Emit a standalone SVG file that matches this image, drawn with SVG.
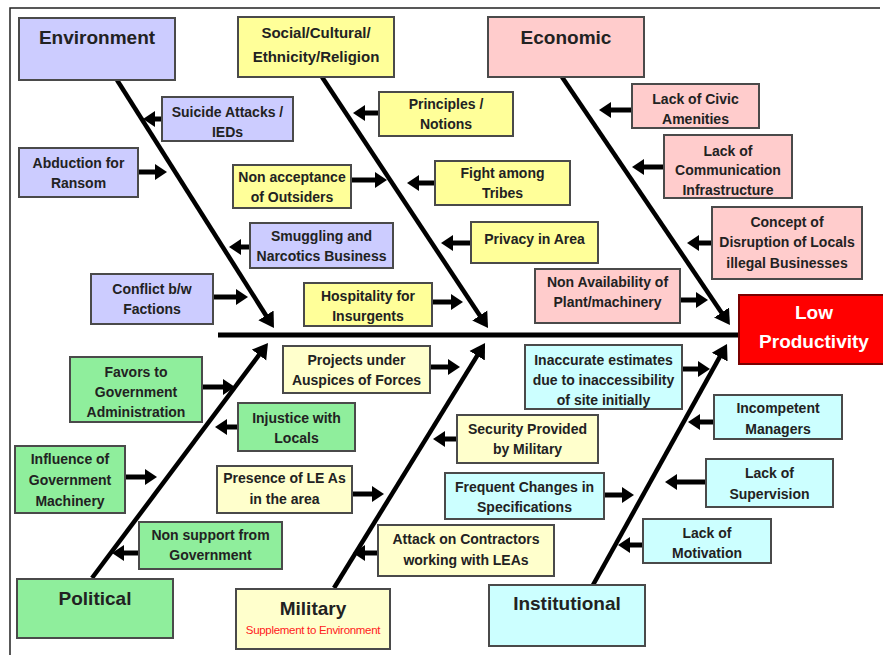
<svg xmlns="http://www.w3.org/2000/svg" width="883" height="655" viewBox="0 0 883 655">
<defs>
<style>
.b{stroke:#4a4a4a;stroke-width:2}
.env{fill:#ccccff}.soc{fill:#ffff99}.eco{fill:#ffcccc}.pol{fill:#8fee9c}.mil{fill:#ffffcc}.ins{fill:#ccffff}
text{font-family:"Liberation Sans",Arial,sans-serif;font-weight:bold;fill:#222;text-anchor:middle}
.t{font-size:14px}
.h{font-size:19px}
.h2{font-size:15px}
.lp{font-size:19px;fill:#ffffff}
.note{font-size:11.5px;font-weight:normal;fill:#ff2020;letter-spacing:-0.3px}
.a{stroke:#000;stroke-width:5;fill:none;marker-end:url(#ah)}
.m{stroke:#000;stroke-width:4.5;fill:none;marker-end:url(#mh)}
</style>
<marker id="ah" markerUnits="userSpaceOnUse" markerWidth="14" markerHeight="18" viewBox="0 -9 14 18" refX="1" refY="0" orient="auto"><path d="M0,-8 L12,0 L0,8 z" fill="#000"/></marker>
<marker id="mh" markerUnits="userSpaceOnUse" markerWidth="16" markerHeight="20" viewBox="0 -10 16 20" refX="1" refY="0" orient="auto"><path d="M0,-9 L15,0 L0,9 z" fill="#000"/></marker>
</defs>
<rect x="0" y="0" width="883" height="655" fill="#ffffff"/>
<path d="M10,655 L10,8 L880,8" fill="none" stroke="#222" stroke-width="1.5"/>

<g id="connectors">
<line x1="218" y1="335" x2="740" y2="335" stroke="#000" stroke-width="5"/>
<line class="m" x1="117" y1="80" x2="266.5" y2="316.2"/>
<line class="m" x1="322" y1="77" x2="480.3" y2="316.3"/>
<line class="m" x1="562" y1="77" x2="722.1" y2="313.4"/>
<line class="m" x1="92" y1="578" x2="259.6" y2="354.2"/>
<line class="m" x1="334" y1="588" x2="477.7" y2="354.9"/>
<line class="m" x1="593" y1="585" x2="720.2" y2="356.2"/>
<line class="a" x1="162" y1="119" x2="154" y2="119"/>
<line class="a" x1="138" y1="172" x2="156" y2="172"/>
<line class="a" x1="250" y1="247" x2="240" y2="247"/>
<line class="a" x1="213" y1="297" x2="237" y2="297"/>
<line class="a" x1="379" y1="113" x2="364" y2="113"/>
<line class="a" x1="351" y1="180" x2="376" y2="180"/>
<line class="a" x1="435" y1="183" x2="418" y2="183"/>
<line class="a" x1="471" y1="243" x2="452" y2="243"/>
<line class="a" x1="432" y1="302" x2="452" y2="302"/>
<line class="a" x1="632" y1="110" x2="610" y2="110"/>
<line class="a" x1="664" y1="167" x2="643" y2="167"/>
<line class="a" x1="712" y1="243" x2="698" y2="243"/>
<line class="a" x1="680" y1="300" x2="697" y2="300"/>
<line class="a" x1="202" y1="387" x2="224" y2="387"/>
<line class="a" x1="238" y1="427" x2="226" y2="427"/>
<line class="a" x1="125" y1="477" x2="146" y2="477"/>
<line class="a" x1="139" y1="553" x2="123" y2="553"/>
<line class="a" x1="430" y1="367" x2="449" y2="367"/>
<line class="a" x1="457" y1="439" x2="444" y2="439"/>
<line class="a" x1="352" y1="494" x2="373" y2="494"/>
<line class="a" x1="378" y1="553" x2="364" y2="553"/>
<line class="a" x1="682" y1="369" x2="699" y2="369"/>
<line class="a" x1="714" y1="422" x2="699" y2="422"/>
<line class="a" x1="604" y1="495" x2="623" y2="495"/>
<line class="a" x1="706" y1="482" x2="676" y2="482"/>
<line class="a" x1="643" y1="545" x2="629" y2="545"/>
</g>

<g id="environment"><rect class="b env" x="19" y="18" width="156" height="62"/><text class="h" x="97" y="44">Environment</text></g>
<g id="social"><rect class="b soc" x="238" y="17" width="156" height="60"/><text class="h2" x="316" y="38">Social/Cultural/</text><text class="h2" x="316" y="62">Ethnicity/Religion</text></g>
<g id="economic"><rect class="b eco" x="488" y="17" width="156" height="60"/><text class="h" x="566" y="44">Economic</text></g>
<g id="low-productivity"><rect x="739" y="295" width="145" height="69" fill="#ff0000" stroke="#7a0000" stroke-width="2"/><text class="lp" x="814" y="319">Low</text><text class="lp" x="814" y="348">Productivity</text></g>
<g id="political"><rect class="b pol" x="17" y="579" width="156" height="59"/><text class="h" x="95" y="605">Political</text></g>
<g id="military"><rect class="b mil" x="236" y="589" width="154" height="60"/><text class="h" x="313" y="615">Military</text><text class="note" x="313" y="634">Supplement to Environment</text></g>
<g id="institutional"><rect class="b ins" x="489" y="585" width="156" height="61"/><text class="h" x="567" y="610">Institutional</text></g>

<g id="suicide"><rect class="b env" x="162" y="97" width="131" height="44"/><text class="t" x="227.5" y="117">Suicide Attacks /</text><text class="t" x="227.5" y="137">IEDs</text></g>
<g id="abduction"><rect class="b env" x="19" y="148" width="119" height="49"/><text class="t" x="78.5" y="168">Abduction for</text><text class="t" x="78.5" y="188">Ransom</text></g>
<g id="smuggling"><rect class="b env" x="250" y="223" width="143" height="45"/><text class="t" x="321.5" y="241">Smuggling and</text><text class="t" x="321.5" y="261">Narcotics Business</text></g>
<g id="conflict"><rect class="b env" x="91" y="274" width="122" height="50"/><text class="t" x="152" y="294">Conflict b/w</text><text class="t" x="152" y="314">Factions</text></g>

<g id="principles"><rect class="b soc" x="379" y="92" width="134" height="44"/><text class="t" x="446" y="109">Principles /</text><text class="t" x="446" y="129">Notions</text></g>
<g id="non-acceptance"><rect class="b soc" x="233" y="165" width="118" height="43"/><text class="t" x="292" y="182">Non acceptance</text><text class="t" x="292" y="202">of Outsiders</text></g>
<g id="fight"><rect class="b soc" x="435" y="161" width="135" height="44"/><text class="t" x="502.5" y="178">Fight among</text><text class="t" x="502.5" y="198">Tribes</text></g>
<g id="privacy"><rect class="b soc" x="471" y="222" width="127" height="41"/><text class="t" x="534.5" y="244">Privacy in Area</text></g>
<g id="hospitality"><rect class="b soc" x="304" y="283" width="128" height="43"/><text class="t" x="368" y="301">Hospitality for</text><text class="t" x="368" y="321">Insurgents</text></g>

<g id="civic"><rect class="b eco" x="632" y="84" width="127" height="44"/><text class="t" x="695.5" y="104">Lack of Civic</text><text class="t" x="695.5" y="124">Amenities</text></g>
<g id="communication"><rect class="b eco" x="664" y="135" width="128" height="63"/><text class="t" x="728" y="156">Lack of</text><text class="t" x="728" y="175">Communication</text><text class="t" x="728" y="195">Infrastructure</text></g>
<g id="concept"><rect class="b eco" x="712" y="207" width="150" height="72"/><text class="t" x="787" y="227">Concept of</text><text class="t" x="787" y="247">Disruption of Locals</text><text class="t" x="787" y="268">illegal Businesses</text></g>
<g id="plant"><rect class="b eco" x="535" y="269" width="145" height="54"/><text class="t" x="607.5" y="287">Non Availability of</text><text class="t" x="607.5" y="307">Plant/machinery</text></g>

<g id="favors"><rect class="b pol" x="70" y="357" width="132" height="65"/><text class="t" x="136" y="377">Favors to</text><text class="t" x="136" y="397">Government</text><text class="t" x="136" y="417">Administration</text></g>
<g id="injustice"><rect class="b pol" x="238" y="403" width="117" height="48"/><text class="t" x="296.5" y="423">Injustice with</text><text class="t" x="296.5" y="443">Locals</text></g>
<g id="influence"><rect class="b pol" x="15" y="446" width="110" height="67"/><text class="t" x="70" y="464">Influence of</text><text class="t" x="70" y="485">Government</text><text class="t" x="70" y="506">Machinery</text></g>
<g id="non-support"><rect class="b pol" x="139" y="522" width="143" height="47"/><text class="t" x="210.5" y="540">Non support from</text><text class="t" x="210.5" y="560">Government</text></g>

<g id="projects"><rect class="b mil" x="283" y="346" width="147" height="47"/><text class="t" x="356.5" y="365">Projects under</text><text class="t" x="356.5" y="385">Auspices of  Forces</text></g>
<g id="security"><rect class="b mil" x="457" y="415" width="141" height="48"/><text class="t" x="527.5" y="434">Security Provided</text><text class="t" x="527.5" y="454">by Military</text></g>
<g id="presence"><rect class="b mil" x="217" y="466" width="135" height="47"/><text class="t" x="284.5" y="483">Presence of LE As</text><text class="t" x="284.5" y="504">in the area</text></g>
<g id="attack"><rect class="b mil" x="378" y="525" width="176" height="51"/><text class="t" x="466" y="544">Attack on Contractors</text><text class="t" x="466" y="565">working with LEAs</text></g>

<g id="inaccurate"><rect class="b ins" x="525" y="345" width="157" height="64"/><text class="t" x="603.5" y="365">Inaccurate estimates</text><text class="t" x="603.5" y="385">due to inaccessibility</text><text class="t" x="603.5" y="405">of site initially</text></g>
<g id="incompetent"><rect class="b ins" x="714" y="395" width="128" height="44"/><text class="t" x="778" y="413">Incompetent</text><text class="t" x="778" y="434">Managers</text></g>
<g id="frequent"><rect class="b ins" x="445" y="473" width="159" height="46"/><text class="t" x="524.5" y="492">Frequent Changes in</text><text class="t" x="524.5" y="512">Specifications</text></g>
<g id="supervision"><rect class="b ins" x="706" y="459" width="127" height="48"/><text class="t" x="769.5" y="478">Lack of</text><text class="t" x="769.5" y="499">Supervision</text></g>
<g id="motivation"><rect class="b ins" x="643" y="519" width="128" height="44"/><text class="t" x="707" y="538">Lack of</text><text class="t" x="707" y="558">Motivation</text></g>
</svg>
